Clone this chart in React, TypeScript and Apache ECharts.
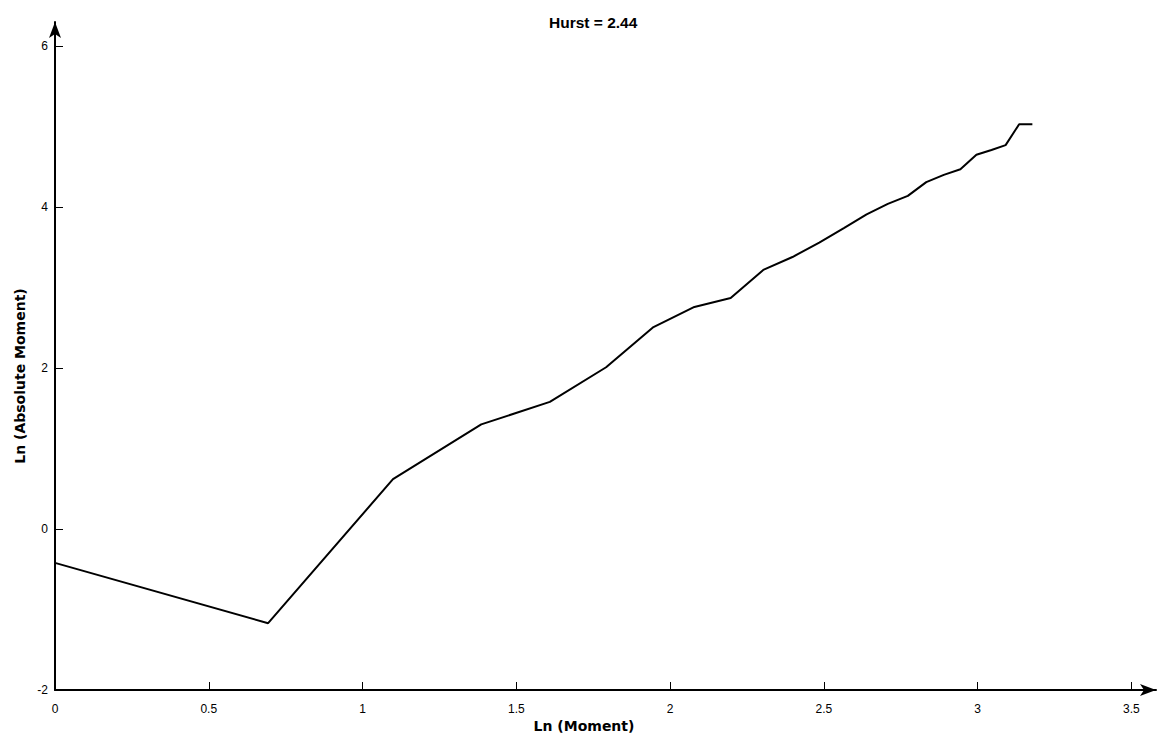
import React, { useEffect, useRef } from "react";
import * as echarts from "echarts";

const titleText = "Hurst = 2.44";
const xName = "Ln (Moment)";
const yName = "Ln (Absolute Moment)";

const lnMoment = [
  0, 0.693, 1.099, 1.386, 1.609, 1.792, 1.946, 2.079, 2.197, 2.303, 2.398, 2.485,
  2.565, 2.639, 2.708, 2.773, 2.833, 2.89, 2.944, 2.996, 3.045, 3.091, 3.135, 3.178,
];
const lnAbsMoment = [
  -0.42, -1.17, 0.62, 1.3, 1.58, 2.01, 2.51, 2.76, 2.87, 3.22, 3.38, 3.56,
  3.74, 3.91, 4.04, 4.14, 4.31, 4.4, 4.47, 4.65, 4.71, 4.77, 5.03, 5.03,
];
const xTicks = [0, 0.5, 1, 1.5, 2, 2.5, 3, 3.5];
const yTicks = [-2, 0, 2, 4, 6];

const FONT = "'Liberation Sans', Arial, sans-serif";
const NAME_FONT = "'DejaVu Sans', Verdana, sans-serif";

export default function App() {
  const ref = useRef<HTMLDivElement>(null);
  useEffect(() => {
    if (!ref.current) return;
    const chart = echarts.init(ref.current, undefined, { renderer: "svg" });
    const axisCommon = {
      axisLine: {
        show: true,
        onZero: false,
        lineStyle: { color: "#000", width: 2 },
        symbol: ["none", "arrow"],
        symbolSize: [9, 16],
      },
      axisTick: { show: true, inside: true, length: 8, lineStyle: { color: "#000", width: 1 } },
      splitLine: { show: false },
    };
    chart.setOption({
      animation: false,
      backgroundColor: "#fff",
      title: {
        text: titleText,
        left: 544,
        top: 9,
        textStyle: { fontFamily: FONT, fontSize: 15.5, fontWeight: "bold", color: "#000" },
      },
      grid: {
        left: 55,
        top: 22,
        right: 1,
        bottom: 48,
        containLabel: false,
        outerBoundsMode: "none",
      },
      xAxis: {
        type: "value",
        min: 0,
        max: 3.58,
        ...axisCommon,
        axisTick: { ...axisCommon.axisTick, customValues: xTicks },
        axisLabel: {
          customValues: xTicks,
          margin: 13,
          color: "#000",
          fontFamily: FONT,
          fontSize: 12,
        },
      },
      yAxis: {
        type: "value",
        min: -2,
        max: 6.3,
        ...axisCommon,
        axisTick: { ...axisCommon.axisTick, customValues: yTicks },
        axisLabel: {
          customValues: yTicks,
          margin: 7,
          color: "#000",
          fontFamily: FONT,
          fontSize: 12,
        },
      },
      graphic: [
        {
          type: "text",
          x: 584,
          y: 726,
          style: {
            text: xName,
            fontFamily: NAME_FONT,
            fontSize: 14,
            fontWeight: "bold",
            fill: "#000",
            textAlign: "center",
            textVerticalAlign: "middle",
          },
        },
        {
          type: "text",
          x: 20,
          y: 376,
          rotation: Math.PI / 2,
          style: {
            text: yName,
            fontFamily: NAME_FONT,
            fontSize: 14,
            fontWeight: "bold",
            fill: "#000",
            textAlign: "center",
            textVerticalAlign: "middle",
          },
        },
      ],
      series: [
        {
          type: "line",
          data: lnMoment.map((x, i) => [x, lnAbsMoment[i]]),
          showSymbol: false,
          symbol: "none",
          lineStyle: { color: "#000", width: 2 },
        },
      ],
    });
    return () => chart.dispose();
  }, []);
  return (
    <div
      ref={ref}
      style={{ position: "fixed", left: 0, top: 0, width: 1157, height: 738, background: "#fff" }}
    />
  );
}
